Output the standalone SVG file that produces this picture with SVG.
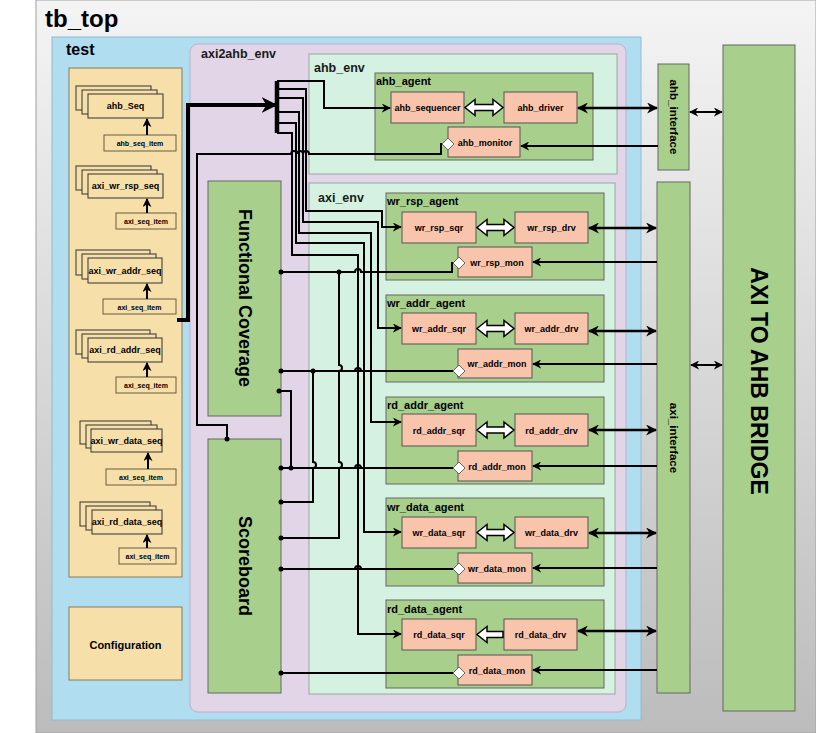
<svg xmlns="http://www.w3.org/2000/svg" width="816" height="733" viewBox="0 0 816 733">
<defs>
<linearGradient id="gbg" x1="0" y1="0" x2="0" y2="1">
<stop offset="0" stop-color="#f4f4f4"/>
<stop offset="1" stop-color="#bcbcbc"/>
</linearGradient>
<marker id="ah" viewBox="0 0 10 10" refX="9" refY="5" markerWidth="9" markerHeight="9" markerUnits="userSpaceOnUse" orient="auto-start-reverse"><path d="M0,0 L10,5 L0,10 L3,5 z" fill="#000"/></marker>
<marker id="ahb" viewBox="0 0 10 10" refX="9" refY="5" markerWidth="11" markerHeight="11" markerUnits="userSpaceOnUse" orient="auto-start-reverse"><path d="M0,0 L10,5 L0,10 L3,5 z" fill="#000"/></marker>
<marker id="ahx" viewBox="0 0 10 10" refX="9" refY="5" markerWidth="16" markerHeight="16" markerUnits="userSpaceOnUse" orient="auto"><path d="M0,0 L10,5 L0,10 L3,5 z" fill="#000"/></marker>
</defs>
<style>
text{font-family:"Liberation Sans",Arial,sans-serif;fill:#000}
.b{font-weight:bold}
.envl{font-size:12.5px;font-weight:bold;fill:#1a1a1a}
.tan{fill:#f6dfa9;stroke:#8a7b5a;stroke-width:1}
.seq{fill:#f6dfa9;stroke:#333;stroke-width:1}
.item{fill:#f6dfa9;stroke:#6b5d3f;stroke-width:1}
.grn{fill:#a9cf8c;stroke:#666;stroke-width:1}
.env{fill:#d5f1e1;stroke:#9aa79f;stroke-width:1}
.sal{fill:#f8c4ab;stroke:#555;stroke-width:1}
.w{fill:none;stroke:#000;stroke-width:2}
.wt{fill:none;stroke:#000;stroke-width:2.5}
.hol{fill:#fff;stroke:#000;stroke-width:1.5}
.dia{fill:#fff;stroke:#666;stroke-width:1}
.lbl{font-size:9px;font-weight:bold;text-anchor:middle}
.itl{font-size:7px;font-weight:bold;text-anchor:middle}
.agl{font-size:11px;font-weight:bold}
</style>

<!-- tb_top -->
<g id="tb_top">
<rect x="36" y="0" width="780" height="733" fill="url(#gbg)" stroke="#a0a0a0"/>
<text x="45" y="27" class="b" font-size="24">tb_top</text>
</g>

<!-- test -->
<g id="test">
<rect x="52" y="37" width="589" height="683" fill="#b1ddf0" stroke="#8fbcd4"/>
<text x="66" y="55" class="b" font-size="16">test</text>
<rect class="tan" x="69" y="68" width="113" height="509"/>
</g>

<g id="configuration">
<rect class="tan" x="69" y="607" width="113" height="73"/>
<text x="125.5" y="649" class="b" font-size="11" text-anchor="middle">Configuration</text>
</g>

<g id="ahb_Seq">
<rect class="seq" x="76" y="86" width="75" height="24"/>
<rect class="seq" x="82" y="90" width="75" height="24"/>
<rect class="seq" x="88" y="94" width="75" height="24"/>
<text class="lbl" x="125.5" y="109">ahb_Seq</text>
</g>
<g id="ahb_seq_item">
<rect class="item" x="104" y="135" width="72" height="16"/>
<text class="itl" x="140" y="146">ahb_seq_item</text>
</g>

<g id="axi_wr_rsp_seq">
<rect class="seq" x="76" y="166" width="75" height="24"/>
<rect class="seq" x="82" y="170" width="75" height="24"/>
<rect class="seq" x="88" y="174" width="75" height="24"/>
<text class="lbl" x="125.5" y="189">axi_wr_rsp_seq</text>
</g>
<g id="wr_rsp_seq_item">
<rect class="item" x="116" y="213" width="60" height="16"/>
<text class="itl" x="146" y="224">axi_seq_item</text>
</g>

<g id="axi_wr_addr_seq">
<rect class="seq" x="76" y="250" width="74" height="25"/>
<rect class="seq" x="82" y="254" width="74" height="25"/>
<rect class="seq" x="88" y="258" width="74" height="25"/>
<text class="lbl" x="125" y="274">axi_wr_addr_seq</text>
</g>
<g id="wr_addr_seq_item">
<rect class="item" x="103" y="299" width="73" height="15"/>
<text class="itl" x="139.5" y="310">axi_seq_item</text>
</g>

<g id="axi_rd_addr_seq">
<rect class="seq" x="76" y="330" width="74" height="24"/>
<rect class="seq" x="82" y="334" width="74" height="24"/>
<rect class="seq" x="88" y="338" width="74" height="24"/>
<text class="lbl" x="125" y="353">axi_rd_addr_seq</text>
</g>
<g id="rd_addr_seq_item">
<rect class="item" x="116" y="377" width="60" height="16"/>
<text class="itl" x="146" y="388">axi_seq_item</text>
</g>

<g id="axi_wr_data_seq">
<rect class="seq" x="80" y="421" width="71" height="23"/>
<rect class="seq" x="86" y="425" width="71" height="23"/>
<rect class="seq" x="91" y="429" width="71" height="23"/>
<text class="lbl" x="126.5" y="444">axi_wr_data_seq</text>
</g>
<g id="wr_data_seq_item">
<rect class="item" x="106" y="469" width="70" height="16" stroke="#000"/>
<text class="itl" x="141" y="480">axi_seq_item</text>
</g>

<g id="axi_rd_data_seq">
<rect class="seq" x="80" y="502" width="70" height="24"/>
<rect class="seq" x="86" y="506" width="70" height="24"/>
<rect class="seq" x="92" y="510" width="70" height="24"/>
<text class="lbl" x="127" y="525">axi_rd_data_seq</text>
</g>
<g id="rd_data_seq_item">
<rect class="item" x="119" y="548" width="57" height="16"/>
<text class="itl" x="147.5" y="559">axi_seq_item</text>
</g>

<!-- axi2ahb_env -->
<g id="axi2ahb_env">
<rect x="190" y="44" width="436" height="668" rx="8" fill="#e1d5e7" stroke="#bfb0c8"/>
<text x="201" y="58" class="envl">axi2ahb_env</text>
</g>

<g id="functional_coverage">
<rect class="grn" x="208" y="181" width="73" height="235"/>
<text class="b" font-size="18" text-anchor="middle" transform="translate(244.5,298) rotate(90)" dy="6">Functional Coverage</text>
</g>

<g id="scoreboard">
<rect class="grn" x="208" y="439" width="73" height="254"/>
<text class="b" font-size="18" text-anchor="middle" transform="translate(244.5,566) rotate(90)" dy="6">Scoreboard</text>
</g>

<g id="ahb_env">
<rect class="env" x="309" y="54" width="308" height="120"/>
<text x="314" y="72" class="envl">ahb_env</text>
</g>
<g id="ahb_agent">
<rect class="grn" x="375" y="73" width="218" height="87"/>
<text class="agl" x="376" y="85">ahb_agent</text>
</g>
<g id="ahb_sequencer">
<rect class="sal" x="391" y="92" width="73" height="31"/>
<text class="lbl" x="427.5" y="111">ahb_sequencer</text>
</g>
<g id="ahb_driver">
<rect class="sal" x="504" y="92" width="73" height="31"/>
<text class="lbl" x="540.5" y="111">ahb_driver</text>
</g>
<g id="ahb_monitor">
<rect class="sal" x="448" y="127" width="72" height="30"/>
<text class="lbl" x="485" y="146">ahb_monitor</text>
</g>

<g id="axi_env">
<rect class="env" x="309" y="183" width="306" height="511"/>
<text x="318" y="202" class="envl">axi_env</text>
</g>

<!-- wr_rsp_agent -->
<g id="wr_rsp_agent">
<rect class="grn" x="386" y="193" width="218" height="87"/>
<text class="agl" x="387" y="205">wr_rsp_agent</text>
</g>
<g id="wr_rsp_sqr"><rect class="sal" x="402" y="212" width="74" height="31"/><text class="lbl" x="439" y="231">wr_rsp_sqr</text></g>
<g id="wr_rsp_drv"><rect class="sal" x="515" y="212" width="73" height="31"/><text class="lbl" x="551.5" y="231">wr_rsp_drv</text></g>
<g id="wr_rsp_mon"><rect class="sal" x="458" y="247" width="74" height="30"/><text class="lbl" x="497" y="266">wr_rsp_mon</text></g>

<!-- wr_addr_agent -->
<g id="wr_addr_agent">
<rect class="grn" x="386" y="295" width="218" height="87"/>
<text class="agl" x="387" y="307">wr_addr_agent</text>
</g>
<g id="wr_addr_sqr"><rect class="sal" x="402" y="313" width="74" height="31"/><text class="lbl" x="439" y="332">wr_addr_sqr</text></g>
<g id="wr_addr_drv"><rect class="sal" x="515" y="313" width="73" height="31"/><text class="lbl" x="551.5" y="332">wr_addr_drv</text></g>
<g id="wr_addr_mon"><rect class="sal" x="458" y="349" width="74" height="29"/><text class="lbl" x="497" y="367">wr_addr_mon</text></g>

<!-- rd_addr_agent -->
<g id="rd_addr_agent">
<rect class="grn" x="386" y="397" width="218" height="87"/>
<text class="agl" x="387" y="409">rd_addr_agent</text>
</g>
<g id="rd_addr_sqr"><rect class="sal" x="402" y="414" width="74" height="32"/><text class="lbl" x="439" y="434">rd_addr_sqr</text></g>
<g id="rd_addr_drv"><rect class="sal" x="515" y="414" width="73" height="32"/><text class="lbl" x="551.5" y="434">rd_addr_drv</text></g>
<g id="rd_addr_mon"><rect class="sal" x="458" y="451" width="74" height="30"/><text class="lbl" x="497" y="470">rd_addr_mon</text></g>

<!-- wr_data_agent -->
<g id="wr_data_agent">
<rect class="grn" x="386" y="498" width="218" height="88"/>
<text class="agl" x="387" y="511">wr_data_agent</text>
</g>
<g id="wr_data_sqr"><rect class="sal" x="402" y="517" width="74" height="31"/><text class="lbl" x="439" y="536">wr_data_sqr</text></g>
<g id="wr_data_drv"><rect class="sal" x="515" y="517" width="73" height="31"/><text class="lbl" x="551.5" y="536">wr_data_drv</text></g>
<g id="wr_data_mon"><rect class="sal" x="458" y="553" width="74" height="30"/><text class="lbl" x="497" y="572">wr_data_mon</text></g>

<!-- rd_data_agent -->
<g id="rd_data_agent">
<rect class="grn" x="386" y="600" width="218" height="88"/>
<text class="agl" x="387" y="613">rd_data_agent</text>
</g>
<g id="rd_data_sqr"><rect class="sal" x="402" y="619" width="74" height="31"/><text class="lbl" x="439" y="638">rd_data_sqr</text></g>
<g id="rd_data_drv"><rect class="sal" x="504" y="619" width="73" height="31"/><text class="lbl" x="540.5" y="638">rd_data_drv</text></g>
<g id="rd_data_mon"><rect class="sal" x="458" y="655" width="74" height="30"/><text class="lbl" x="497" y="674">rd_data_mon</text></g>

<!-- interfaces and bridge -->
<g id="ahb_interface">
<rect class="grn" x="658" y="64" width="31" height="106"/>
<text class="b" font-size="11.5" text-anchor="middle" transform="translate(673.5,117) rotate(90)" dy="4">ahb_interface</text>
</g>
<g id="axi_interface">
<rect class="grn" x="657" y="182" width="33" height="511"/>
<text class="b" font-size="11.5" text-anchor="middle" transform="translate(673.5,438) rotate(90)" dy="4">axi_interface</text>
</g>
<g id="axi_to_ahb_bridge">
<rect class="grn" x="723" y="45" width="72" height="666"/>
<text class="b" font-size="23" text-anchor="middle" transform="translate(759,381) rotate(90)" dy="8">AXI TO AHB BRIDGE</text>
</g>

<!-- connectors -->
<g id="connectors">
<path class="w" d="M147,135 V119" marker-end="url(#ah)"/>
<path class="w" d="M147,213 V199" marker-end="url(#ah)"/>
<path class="w" d="M147,299 V284" marker-end="url(#ah)"/>
<path class="w" d="M147,377 V363" marker-end="url(#ah)"/>
<path class="w" d="M148,469 V453" marker-end="url(#ah)"/>
<path class="w" d="M147,548 V535" marker-end="url(#ah)"/>

<path d="M177,320 H188 V105 H276" fill="none" stroke="#000" stroke-width="4" marker-end="url(#ahx)"/>
<path d="M277,81 V133" fill="none" stroke="#000" stroke-width="4.5"/>

<path class="w" d="M277,81 H324 V108 H390" marker-end="url(#ah)"/>
<path class="w" d="M277,89 H306 V211 H382 V227 H401" marker-end="url(#ah)"/>
<path class="w" d="M277,98 H303 V222 H378 V328 H401" marker-end="url(#ah)"/>
<path class="w" d="M277,112 H299 V233 H371 V422 H401" marker-end="url(#ah)"/>
<path class="w" d="M277,123 H296 V243 H364 V532 H401" marker-end="url(#ah)"/>
<path class="w" d="M277,133 H292 V255 H358 V634 H401" marker-end="url(#ah)"/>

<path class="w" d="M443,144 H441 V154 H309 a3,3 0 0 0 -6,0 a3,3 0 0 0 -6,0 a3,3 0 0 0 -6,0 H197 V425 H227 V439"/>
<circle cx="227" cy="439" r="2.5"/>

<path class="w" d="M281,272 H355 a3,3 0 0 1 6,0 H452 V263 H455"/>
<path class="w" d="M339,272 V365 a3,3 0 0 1 0,6 V462 a3,3 0 0 1 0,6 V538 H281"/>
<path class="w" d="M281,371 H455"/>
<path class="w" d="M313,371 V462 a3,3 0 0 1 0,6 V502 H281"/>
<path class="w" d="M281,468 H455"/>
<path class="w" d="M279,391 H291 V468"/>
<path class="w" d="M281,569 H455"/>
<path class="w" d="M281,673 H455"/>
<path class="w" d="M355,371 a3,3 0 0 1 6,0 M355,468 a3,3 0 0 1 6,0 M355,569 a3,3 0 0 1 6,0"/>
<circle cx="281" cy="272" r="2.5"/>
<circle cx="339" cy="272" r="2.5"/>
<circle cx="281" cy="538" r="2.5"/>
<circle cx="281" cy="371" r="2.5"/>
<circle cx="313" cy="371" r="2.5"/>
<circle cx="281" cy="502" r="2.5"/>
<circle cx="281" cy="468" r="2.5"/>
<circle cx="291" cy="468" r="2.5"/>
<circle cx="279" cy="391" r="2.5"/>
<circle cx="281" cy="569" r="2.5"/>
<circle cx="281" cy="673" r="2.5"/>

<path class="dia" d="M448,138 L454,144 L448,150 L442,144 z"/>
<path class="dia" d="M459,257 L465,263 L459,269 L453,263 z"/>
<path class="dia" d="M459,365 L465,371 L459,377 L453,371 z"/>
<path class="dia" d="M459,462 L465,468 L459,474 L453,468 z"/>
<path class="dia" d="M459,563 L465,569 L459,575 L453,569 z"/>
<path class="dia" d="M459,667 L465,673 L459,679 L453,673 z"/>

<path class="hol" d="M465,107.5 L475,99.5 L475,104.5 L493,104.5 L493,99.5 L503,107.5 L493,115.5 L493,110.5 L475,110.5 L475,115.5 z"/>
<path class="hol" d="M477,227.5 L487,219.5 L487,224.5 L504,224.5 L504,219.5 L514,227.5 L504,235.5 L504,230.5 L487,230.5 L487,235.5 z"/>
<path class="hol" d="M477,328.5 L487,320.5 L487,325.5 L504,325.5 L504,320.5 L514,328.5 L504,336.5 L504,331.5 L487,331.5 L487,336.5 z"/>
<path class="hol" d="M477,430 L487,422 L487,427 L504,427 L504,422 L514,430 L504,438 L504,433 L487,433 L487,438 z"/>
<path class="hol" d="M477,532.5 L487,524.5 L487,529.5 L504,529.5 L504,524.5 L514,532.5 L504,540.5 L504,535.5 L487,535.5 L487,540.5 z"/>
<path class="hol" d="M477,634.5 L487,626.5 L487,631.5 L503,631.5 L503,637.5 L487,637.5 L487,642.5 z"/>

<path class="wt" d="M578,108 H657" marker-start="url(#ahb)" marker-end="url(#ahb)"/>
<path class="wt" d="M589,228 H656" marker-start="url(#ahb)" marker-end="url(#ahb)"/>
<path class="wt" d="M589,331 H656" marker-start="url(#ahb)" marker-end="url(#ahb)"/>
<path class="wt" d="M589,430 H656" marker-start="url(#ahb)" marker-end="url(#ahb)"/>
<path class="wt" d="M589,533 H656" marker-start="url(#ahb)" marker-end="url(#ahb)"/>
<path class="wt" d="M578,631 H656" marker-start="url(#ahb)" marker-end="url(#ahb)"/>

<path class="w" d="M658,146 H521" marker-end="url(#ah)"/>
<path class="w" d="M657,262 H533" marker-end="url(#ah)"/>
<path class="w" d="M657,364 H533" marker-end="url(#ah)"/>
<path class="w" d="M657,466 H533" marker-end="url(#ah)"/>
<path class="w" d="M657,568 H533" marker-end="url(#ah)"/>
<path class="w" d="M657,670 H533" marker-end="url(#ah)"/>

<path class="w" d="M690,112 H722" marker-start="url(#ah)" marker-end="url(#ah)"/>
<path class="w" d="M691,365 H722" marker-start="url(#ah)" marker-end="url(#ah)"/>
</g>
</svg>
